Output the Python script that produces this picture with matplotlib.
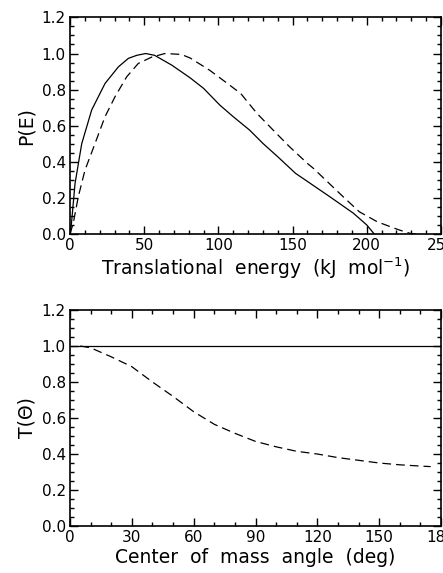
#!/usr/bin/env python3
"""Two-panel figure: P(E) translational energy distribution and T(theta) angular distribution."""

import matplotlib
matplotlib.use("Agg")
import matplotlib.pyplot as plt
from matplotlib.ticker import MultipleLocator

# top panel: P(E), solid and dashed fits
energy_solid = [0, 1, 3.4, 7.9, 14.6, 23.6, 32.6, 39.3, 45, 51, 57, 68.5, 81,
                90, 101, 110, 121, 130, 140, 152, 162, 175, 191, 200, 205]
pe_solid = [0, 0.06, 0.28, 0.50, 0.687, 0.834, 0.926, 0.973, 0.99, 1.0, 0.99,
            0.936, 0.865, 0.807, 0.714, 0.65, 0.576, 0.502, 0.428, 0.336,
            0.28, 0.207, 0.115, 0.05, 0.0]

energy_dashed = [0, 2.2, 5.6, 10.1, 16.8, 23.6, 30.3, 38.2, 46, 55, 64, 75,
                 81, 94, 103, 115, 126, 139, 148, 160, 164, 184, 195, 207,
                 216, 222, 229, 233]
pe_dashed = [0, 0.06, 0.207, 0.354, 0.50, 0.65, 0.76, 0.871, 0.945, 0.98, 1.0,
             0.995, 0.975, 0.908, 0.853, 0.779, 0.668, 0.558, 0.483, 0.391,
             0.364, 0.207, 0.123, 0.068, 0.04, 0.022, 0.004, 0.0]

# bottom panel: T(theta)
angle_solid = [0, 180]
t_solid = [1.0, 1.0]

angle_dashed = [5, 10, 20, 30, 40, 50, 60, 70, 80, 90, 100, 110, 120, 130,
                140, 150, 160, 170, 175]
t_dashed = [1.0, 0.99, 0.94, 0.885, 0.80, 0.72, 0.635, 0.565, 0.515, 0.47,
            0.44, 0.415, 0.40, 0.38, 0.365, 0.35, 0.34, 0.333, 0.33]

plt.rcParams["font.family"] = "DejaVu Sans"

fig = plt.figure(figsize=(4.43, 5.73), dpi=100)
ax1 = fig.add_axes([0.158, 0.5916, 0.8375, 0.378])
ax2 = fig.add_axes([0.158, 0.082, 0.8375, 0.377])

DASH = (0, (7, 4))

ax1.plot(energy_solid, pe_solid, color="black", lw=0.9)
ax1.plot(energy_dashed, pe_dashed, color="black", lw=0.9, linestyle=DASH)
ax1.set_xlim(0, 250)
ax1.set_ylim(0, 1.2)
ax1.xaxis.set_major_locator(MultipleLocator(50))
ax1.xaxis.set_minor_locator(MultipleLocator(10))
ax1.set_xlabel("Translational  energy  (kJ  mol$^{-1}$)", fontsize=13.5, labelpad=2)
ax1.set_ylabel("P(E)", fontsize=13.5)

ax2.plot(angle_solid, t_solid, color="black", lw=0.9)
ax2.plot(angle_dashed, t_dashed, color="black", lw=0.9, linestyle=DASH)
ax2.set_xlim(0, 180)
ax2.set_ylim(0, 1.2)
ax2.xaxis.set_major_locator(MultipleLocator(30))
ax2.xaxis.set_minor_locator(MultipleLocator(10))
ax2.set_xlabel("Center  of  mass  angle  (deg)", fontsize=13.5, labelpad=2)
ax2.set_ylabel("T(\u0398)", fontsize=13.5)

for ax in (ax1, ax2):
    ax.yaxis.set_major_locator(MultipleLocator(0.2))
    ax.yaxis.set_minor_locator(MultipleLocator(0.05))
    ax.yaxis.set_major_formatter(lambda v, pos: f"{v:.1f}")
    ax.tick_params(which="both", direction="in", top=True, right=True,
                   labelsize=11, width=1.0)
    ax.tick_params(which="major", length=6, pad=3)
    ax.tick_params(which="minor", length=3)
    for sp in ax.spines.values():
        sp.set_linewidth(1.2)

fig.savefig("out.png", dpi=100)
